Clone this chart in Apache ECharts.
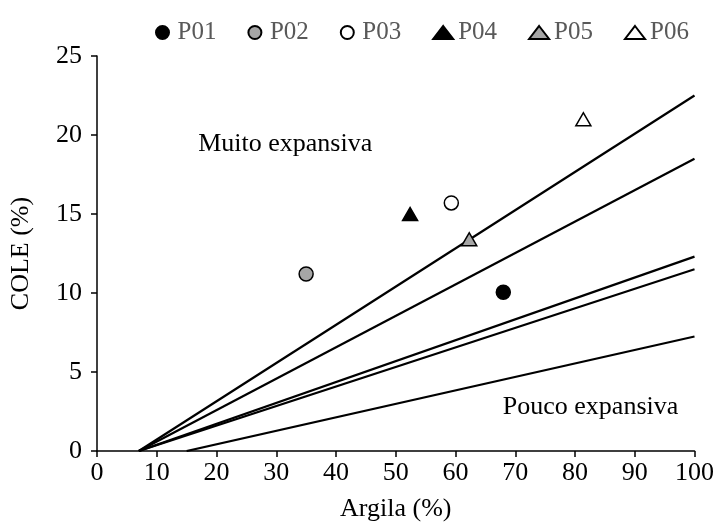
<!DOCTYPE html>
<html>
<head>
<meta charset="utf-8">
<script src="https://cdn.jsdelivr.net/npm/echarts@6/dist/echarts.min.js"></script>
<style>
  html, body { margin: 0; padding: 0; background: #fff; }
  #chart { width: 717px; height: 527px; }
</style>
</head>
<body>
<div id="chart"></div>
<script>
// Soil profiles: clay content (%) vs coefficient of linear extensibility (%)
const profileNames = ['P01', 'P02', 'P03', 'P04', 'P05', 'P06'];
const clayValues   = [68, 35, 59.3, 52.4, 62.3, 81.4];
const coleValues   = [10.05, 11.2, 15.7, 15.0, 13.4, 21.0];
const profileSymbols = ['circle', 'circle', 'circle', 'triangle', 'triangle', 'triangle'];
const profileFills   = ['#000000', '#a6a6a6', '#ffffff', '#000000', '#a6a6a6', '#ffffff'];

// Expansivity class boundaries (start at clay axis, end at 100 % clay)
const boundaryStartX = [7, 7, 7, 7, 15];
const boundaryEndX   = [100, 100, 100, 100, 100];
const boundaryEndY   = [22.5, 18.5, 12.3, 11.5, 7.25];

// Zone labels
const zoneLabels = ['Muito expansiva', 'Pouco expansiva'];
const zoneX = [31.5, 82.6];
const zoneY = [19.4, 2.75];

const xTicks = { min: 0, max: 100, interval: 10 };
const yTicks = { min: 0, max: 25, interval: 5 };

const FONT = '"Liberation Serif", "Times New Roman", serif';

const series = [];

boundaryStartX.forEach((x0, i) => {
  series.push({
    type: 'line',
    data: [[x0, 0], [boundaryEndX[i], boundaryEndY[i]]],
    symbol: 'none',
    silent: true,
    lineStyle: { color: '#000', width: 2.2 },
    z: 2
  });
});

profileNames.forEach((name, i) => {
  const isTri = profileSymbols[i] === 'triangle';
  series.push({
    name: name,
    type: 'scatter',
    data: [[clayValues[i], coleValues[i]]],
    symbol: profileSymbols[i],
    symbolSize: isTri ? [15, 13] : 14,
    itemStyle: { color: profileFills[i], borderColor: '#000', borderWidth: 1.5, opacity: 1 },
    z: 5
  });
});

series.push({
  type: 'scatter',
  silent: true,
  symbolSize: 0,
  itemStyle: { opacity: 1 },
  data: zoneLabels.map((t, i) => ({ value: [zoneX[i], zoneY[i]], name: t })),
  label: {
    show: true,
    position: 'inside',
    formatter: p => p.name,
    fontFamily: FONT,
    fontSize: 26,
    color: '#000',
    opacity: 1
  },
  z: 4
});

const chart = echarts.init(document.getElementById('chart'));
chart.setOption({
  animation: false,
  backgroundColor: '#fff',
  grid: { left: 95, right: 22, top: 56, bottom: 76 },
  legend: {
    data: profileNames,
    left: 150,
    top: 15,
    itemWidth: 20,
    itemHeight: 13,
    itemGap: 31,
    itemStyle: { opacity: 1 },
    textStyle: { fontFamily: FONT, fontSize: 25, color: '#595959' }
  },
  xAxis: {
    type: 'value',
    min: xTicks.min, max: xTicks.max, interval: xTicks.interval,
    name: 'Argila (%)',
    nameLocation: 'middle',
    nameGap: 45,
    nameTextStyle: { fontFamily: FONT, fontSize: 26, color: '#000' },
    axisLine: { show: true, onZero: false, lineStyle: { color: '#000', width: 1.5 } },
    axisTick: { show: true, length: 6, lineStyle: { color: '#000', width: 1.5 } },
    axisLabel: { fontFamily: FONT, fontSize: 26, color: '#000', margin: 9 },
    splitLine: { show: false }
  },
  yAxis: {
    type: 'value',
    min: yTicks.min, max: yTicks.max, interval: yTicks.interval,
    name: 'COLE (%)',
    nameLocation: 'middle',
    nameGap: 63,
    nameTextStyle: { fontFamily: FONT, fontSize: 26, color: '#000' },
    axisLine: { show: true, onZero: false, lineStyle: { color: '#000', width: 1.5 } },
    axisTick: { show: true, length: 6, lineStyle: { color: '#000', width: 1.5 } },
    axisLabel: { fontFamily: FONT, fontSize: 26, color: '#000', margin: 15 },
    splitLine: { show: false }
  },
  series: series
});
</script>
</body>
</html>
